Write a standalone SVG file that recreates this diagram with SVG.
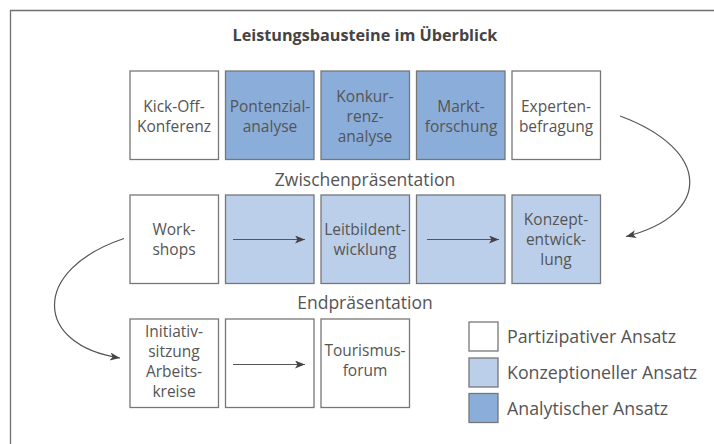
<svg xmlns="http://www.w3.org/2000/svg" width="714" height="444" viewBox="0 0 714 444">
<defs>
<style>
.frame{fill:none;stroke:#6f6f6f;stroke-width:1.3}
.box{stroke:#777;stroke-width:1.3}
.w{fill:#fff}
.a{fill:#8badd9}
.k{fill:#bccfea}
text{font-family:"Open Sans","Noto Sans",sans-serif;fill:#555;font-size:15.5px;text-anchor:middle}
.title{font-weight:bold;font-size:16.2px;fill:#444}
.sec{font-size:17.5px}
.lg{text-anchor:start;font-size:17.8px}
.con{fill:none;stroke:#555;stroke-width:1.2}
</style>
<marker id="ah" viewBox="0 0 10 8" refX="10" refY="4" markerWidth="11" markerHeight="8" markerUnits="userSpaceOnUse" orient="auto">
<path d="M0,0 L10,4 L0,8 L2.5,4 Z" fill="#444"/>
</marker>
</defs>
<path class="frame" d="M10.5,444 V10.5 H714"/>
<text class="title" x="365" y="41">Leistungsbausteine im Überblick</text>

<g id="kickoff"><rect class="box w" x="130" y="71" width="88.5" height="88.5"/><text x="174" y="112">Kick-Off-</text><text x="174" y="132">Konferenz</text></g>
<g id="potenzial"><rect class="box a" x="225.5" y="71" width="88.5" height="88.5"/><text x="270" y="112">Pontenzial-</text><text x="270" y="132">analyse</text></g>
<g id="konkurrenz"><rect class="box a" x="321" y="71" width="88.5" height="88.5"/><text x="365" y="102">Konkur-</text><text x="365" y="122">renz-</text><text x="365" y="142">analyse</text></g>
<g id="markt"><rect class="box a" x="416.5" y="71" width="88.5" height="88.5"/><text x="461" y="112">Markt-</text><text x="461" y="132">forschung</text></g>
<g id="experten"><rect class="box w" x="512" y="71" width="88.5" height="88.5"/><text x="556" y="112">Experten-</text><text x="556" y="132">befragung</text></g>

<text class="sec" x="365" y="185.5">Zwischenpräsentation</text>

<g id="workshops"><rect class="box w" x="130" y="195" width="88.5" height="88.5"/><text x="174" y="235">Work-</text><text x="174" y="255">shops</text></g>
<g id="k1"><rect class="box k" x="225.5" y="195" width="88.5" height="88.5"/></g>
<g id="leitbild"><rect class="box k" x="321" y="195" width="88.5" height="88.5"/><text x="365" y="235">Leitbildent-</text><text x="365" y="255">wicklung</text></g>
<g id="k2"><rect class="box k" x="416.5" y="195" width="88.5" height="88.5"/></g>
<g id="konzept"><rect class="box k" x="512" y="195" width="88.5" height="88.5"/><text x="556" y="225">Konzept-</text><text x="556" y="245">entwick-</text><text x="556" y="265">lung</text></g>

<text class="sec" x="365" y="308.5">Endpräsentation</text>

<g id="initiativ"><rect class="box w" x="130" y="319" width="88.5" height="88.5"/><text x="174" y="337">Initiativ-</text><text x="174" y="357">sitzung</text><text x="174" y="377">Arbeits-</text><text x="174" y="397">kreise</text></g>
<g id="w1"><rect class="box w" x="225.5" y="319" width="88.5" height="88.5"/></g>
<g id="tourismus"><rect class="box w" x="321" y="319" width="88.5" height="88.5"/><text x="365" y="356">Tourismus-</text><text x="365" y="376">forum</text></g>

<g id="legend">
<rect class="box w" x="469" y="322" width="29" height="29"/><text class="lg" x="507" y="343">Partizipativer Ansatz</text>
<rect class="box k" x="469" y="358" width="29" height="29"/><text class="lg" x="507" y="379">Konzeptioneller Ansatz</text>
<rect class="box a" x="469" y="393.5" width="29" height="29"/><text class="lg" x="507" y="415">Analytischer Ansatz</text>
</g>

<g id="connectors">
<path class="con" d="M233,239.5 H305" marker-end="url(#ah)"/>
<path class="con" d="M427,239.5 H499" marker-end="url(#ah)"/>
<path class="con" d="M233,364.5 H305" marker-end="url(#ah)"/>
<path class="con" d="M620,116 C712,150 712,215 626,236.5" marker-end="url(#ah)"/>
<path class="con" d="M124,238.5 C30,270 34,345 120,358" marker-end="url(#ah)"/>
</g>
</svg>
